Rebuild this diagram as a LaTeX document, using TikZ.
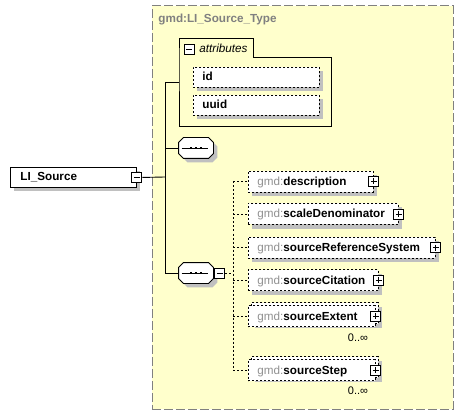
\documentclass[tikz,border=0pt]{standalone}
\usepackage{fontspec}
\setmainfont{Liberation Sans}
\usetikzlibrary{shadows}
\definecolor{bgyellow}{RGB}{255,255,204}
\definecolor{shadowgray}{RGB}{192,192,192}
\definecolor{prefixgray}{RGB}{145,145,145}
\definecolor{framegray}{RGB}{128,128,128}
\newcommand{\pfx}[1]{\textcolor{prefixgray}{\mdseries #1}}
\begin{document}
\begin{tikzpicture}[x=1pt,y=-1pt,
  font=\fontsize{11.7}{13}\selectfont,
  line width=0.9pt,
  shd/.style={drop shadow={shadow xshift=4pt,shadow yshift=-4pt,fill=shadowgray,opacity=1}},
  solidbox/.style={draw,fill=white,shd,inner sep=0,anchor=north west},
  attrbox/.style={draw,dash pattern=on 2pt off 2pt,fill=white,shd,inner sep=0,anchor=north west},
  elem/.style={draw,dash pattern=on 2pt off 2pt,fill=white,inner sep=0,anchor=west,minimum height=21pt},
  elemshd/.style={elem,shd},
  txt/.style={anchor=base west,inner sep=0,font=\fontsize{11.7}{13}\selectfont\bfseries},
  pm/.style={draw,solid,fill=white,minimum size=10pt,inner sep=0,line width=0.9pt},
  plusbox/.style={pm,path picture={
     \draw ([xshift=2pt]path picture bounding box.west) -- ([xshift=-2pt]path picture bounding box.east);
     \draw ([yshift=-2pt]path picture bounding box.north) -- ([yshift=2pt]path picture bounding box.south);}},
  minusbox/.style={pm,path picture={
     \draw ([xshift=2pt]path picture bounding box.west) -- ([xshift=-2pt]path picture bounding box.east);}},
  seqhold/.style={minimum width=34pt,minimum height=20pt,inner sep=0},
  seqshape/.style={draw,fill=white,shd},
  seqdot/.style={fill=black,draw=none,minimum size=2.8pt,inner sep=0},
  conn/.style={draw,line width=0.9pt},
  dconn/.style={draw,line width=0.9pt,dash pattern=on 2pt off 2pt},
  mult/.style={anchor=base,inner sep=0,font=\fontsize{11}{13}\selectfont}
]
\useasboundingbox (0,0) rectangle (463,414);
\fill[white] (0,0) rectangle (463,414);

% complex type frame
\node[draw=framegray,dash pattern=on 9pt off 3pt,fill=bgyellow,anchor=north west,
      minimum width=301pt,minimum height=403pt,inner sep=0] (type) at (151.5,5.5) {};
\node[anchor=base west,inner sep=0,text=framegray,font=\fontsize{11.7}{13}\selectfont\bfseries] (title) at (158,23) {gmd:LI\_Source\_Type};

% attributes group
\draw (179,57) -- (179,38) -- (253,38) -- (253,57) -- (331,57) -- (331,126) -- (179,126) -- cycle;
\node[draw=none,anchor=north west,minimum width=152pt,minimum height=69pt,inner sep=0] (attr) at (179,57) {};
\node[minusbox] (attrm) at (189,49) {};
\node[anchor=base west,inner sep=0,font=\fontsize{11.7}{13}\selectfont\itshape] (attrt) at (199,53) {attributes};
\node[attrbox,minimum width=126pt,minimum height=20pt] (id) at (193,67) {};
\node[txt] (idt) at (202,81) {id};
\node[attrbox,minimum width=126pt,minimum height=20pt] (uuid) at (193,95) {};
\node[txt] (uuidt) at (202,109) {uuid};

% root element
\node[solidbox,minimum width=126pt,minimum height=20pt] (src) at (10,167) {};
\node[txt] (srct) at (20,181) {LI\_Source};
\node[minusbox] (srcm) at (src.east) {};

% sequence 1
\node[seqhold] (seq1) at (196,148) {};
\draw[seqshape] ([xshift=5pt]seq1.north west) -- ([xshift=-5pt]seq1.north east) -- ([yshift=-5pt]seq1.north east)
  -- ([yshift=5pt]seq1.south east) -- ([xshift=-5pt]seq1.south east) -- ([xshift=5pt]seq1.south west)
  -- ([yshift=5pt]seq1.south west) -- ([yshift=-5pt]seq1.north west) -- cycle;
\draw ([xshift=3pt]seq1.west) -- ([xshift=-5pt]seq1.east);
\node[seqdot] (s1d1) at ([xshift=-5pt]seq1.center) {};
\node[seqdot] (s1d2) at (seq1.center) {};
\node[seqdot] (s1d3) at ([xshift=5pt]seq1.center) {};

% sequence 2
\node[seqhold] (seq2) at (196,273) {};
\draw[seqshape] ([xshift=5pt]seq2.north west) -- ([xshift=-5pt]seq2.north east) -- ([yshift=-5pt]seq2.north east)
  -- ([yshift=5pt]seq2.south east) -- ([xshift=-5pt]seq2.south east) -- ([xshift=5pt]seq2.south west)
  -- ([yshift=5pt]seq2.south west) -- ([yshift=-5pt]seq2.north west) -- cycle;
\draw ([xshift=3pt]seq2.west) -- ([xshift=-5pt]seq2.east);
\node[seqdot] (s2d1) at ([xshift=-5pt]seq2.center) {};
\node[seqdot] (s2d2) at (seq2.center) {};
\node[seqdot] (s2d3) at ([xshift=5pt]seq2.center) {};
\node[minusbox,anchor=west] (seq2m) at ([xshift=1pt]seq2.east) {};

% solid connectors
\coordinate (tkA) at (165,82);
\coordinate (tkR) at (165,177);
\coordinate (tkB) at (165,273);
\draw[conn] (srcm.east) -- (tkR);
\draw[conn] (tkA) -- (tkB);
\draw[conn] (tkA) -- (tkA -| attr.west);
\draw[conn] (tkR |- seq1.west) -- (seq1.west);
\draw[conn] (tkB) -- (seq2.west);

% child elements
\node[elemshd,minimum width=125pt] (e1) at (248,181.5) {};
\node[txt] (e1t) at (257,185.5) {\pfx{gmd:}description};
\node[plusbox] (e1p) at (e1.east) {};

\node[elemshd,minimum width=150pt] (e2) at (248,214) {};
\node[txt] (e2t) at (257,218) {\pfx{gmd:}scaleDenominator};
\node[plusbox] (e2p) at (e2.east) {};

\node[elemshd,minimum width=187pt] (e3) at (248,247.5) {};
\node[txt] (e3t) at (257,251.5) {\pfx{gmd:}sourceReferenceSystem};
\node[plusbox] (e3p) at (e3.east) {};

\node[elemshd,minimum width=130pt] (e4) at (248,280) {};
\node[txt] (e4t) at (257,284) {\pfx{gmd:}sourceCitation};
\node[plusbox] (e4p) at (e4.east) {};

\node[elemshd,minimum width=127pt] (e5b) at (251,313) {};
\node[elem,minimum width=127pt] (e5) at (248,316) {};
\node[txt] (e5t) at (257,320) {\pfx{gmd:}sourceExtent};
\node[plusbox] (e5p) at (e5.east) {};
\node[mult] (e5m) at (358,341) {0..∞};

\node[elemshd,minimum width=127pt] (e6b) at (251,367) {};
\node[elem,minimum width=127pt] (e6) at (248,370) {};
\node[txt] (e6t) at (257,374) {\pfx{gmd:}sourceStep};
\node[plusbox] (e6p) at (e6.east) {};
\node[mult] (e6m) at (358,394) {0..∞};

% dashed connectors
\coordinate (br) at (233,273);
\path[dconn] (seq2m.east) -- (br);
\path[dconn] (e1.west -| br) -- (e6.west -| br);
\foreach \e in {e1,e2,e3,e4,e5,e6} {\path[dconn] (\e.west -| br) -- (\e.west);}
\end{tikzpicture}
\end{document}
